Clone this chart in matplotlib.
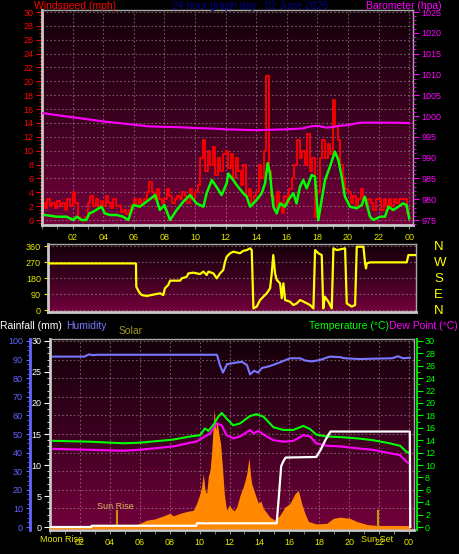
import numpy as np
import matplotlib
matplotlib.use("Agg")
import matplotlib.pyplot as plt
from matplotlib.colors import LinearSegmentedColormap
from matplotlib.ticker import MultipleLocator, FixedLocator

plt.rcParams['font.family'] = ['Liberation Sans', 'DejaVu Sans']

# ---- wind panel data ----
# gust, one sample every 10 minutes from 00:00
wind_gust = [
    2.5, 1.8, 3.0, 2.0, 2.5, 1.8,   2.8, 2.0, 2.5, 1.5, 3.0, 2.0,
    4.0, 2.5, 0.5, 0.0, 0.0, 0.5,   2.5, 3.5, 2.0, 3.0, 2.0, 2.8,
    2.0, 3.5, 2.5, 1.8, 3.0, 2.0,   2.0, 1.2, 1.5, 0.8, 1.5, 2.0,
    3.0, 2.0, 3.0, 2.5, 3.0, 4.0,   5.5, 4.0, 3.0, 4.5, 3.0, 2.5,
    3.0, 4.5, 3.5, 2.5, 3.0, 3.5,   3.0, 4.0, 3.5, 2.5, 4.5, 3.0,
    4.0, 5.0, 9.0, 11.5, 7.0, 10.0, 8.0, 10.5, 6.5, 9.0, 7.0, 9.5,
    10.0, 7.5, 9.5, 6.0, 9.0, 7.0,  5.0, 8.0, 3.5, 4.5, 2.5, 3.5,
    4.0, 8.0, 6.0, 10.0, 20.7, 7.0, 3.5, 1.5, 4.0, 2.5, 1.0, 3.5,
    2.5, 4.5, 6.0, 8.0, 11.5, 9.0, 10.0, 8.0, 12.4, 7.0, 9.0, 0.5,
    4.0, 9.0, 11.5, 9.0, 11.0, 9.5, 17.3, 13.5, 11.5, 8.0, 6.0, 4.5,
    4.0, 2.5, 3.5, 2.0, 3.0, 4.5,   3.0, 2.0, 3.0, 2.5, 1.5, 3.0,
    3.0, 1.5, 3.0, 2.0, 3.0, 2.0,   3.0, 2.5, 3.0, 3.0, 3.0, 1.0,
]
gust_step_min = 10

avg_h = [0.2, 0.96, 1.6, 2.05, 2.27, 2.6, 2.9, 3.1, 3.35, 3.7, 3.9, 4.1, 4.45, 4.9, 5.3,
         5.64, 5.97, 6.4, 6.84, 7.4, 7.7, 8.0, 8.37, 8.8, 9.24, 9.67, 10.1, 10.55, 10.76,
         11.1, 11.4, 11.74, 12.07, 12.18, 12.5, 12.72, 13.16, 13.38, 13.6, 14.03, 14.36,
         14.58, 14.75, 14.9, 15.12, 15.34, 15.56, 15.88, 16.1, 16.43, 16.64, 16.86, 17.08,
         17.3, 17.63, 17.84, 18.06, 18.28, 18.5, 18.82, 19.15, 19.37, 19.59, 19.8, 20.13,
         20.57, 20.9, 21.1, 21.44, 21.66, 22.1, 22.42, 22.64, 22.96, 23.29, 23.6, 23.83, 24.0]
wind_avg = [0.72, 0.48, 0.48, 0, 0.48, 0, 0, 0.96, 1.2, 1.68, 1.92, 0.96, 0.72, 0.72, 0.48,
            0, 2.16, 1.92, 2.65, 3.6, 1.44, 2.16, 0, 1.44, 2.65, 3.6, 2.4, 1.92, 3.85,
            5.77, 4.8, 3.6, 5.3, 6.7, 5.77, 5.05, 3.85, 3.37, 1.92, 2.9, 3.85,
            5.3, 8.2, 6.7, 1.92, 0.96, 2.4, 1.92, 2.9, 3.85, 2.4, 4.8, 5.77,
            4.57, 6.5, 6.25, 0, 2.9, 5.77, 7.7, 9.86, 8.66, 6.25, 3.37, 1.92,
            1.68, 2.16, 3.37, 0.48, 0, 0.48, 0.48, 1.92, 1.44, 1.92, 2.4, 2.16, 0.24]

baro_h = [0, 1, 2, 3, 4, 5, 6, 7, 8, 9, 10, 11, 12, 13, 14, 15, 16, 17, 17.7, 18.1,
          18.6, 19.1, 19.5, 20.0, 20.5, 20.8, 22, 23, 24]
baro = [1000.7, 1000.2, 999.7, 999.2, 998.7, 998.3, 997.9, 997.5, 997.4, 997.3, 997.1,
        997.0, 996.8, 996.7, 996.6, 996.7, 996.8, 997.0, 997.6, 997.6, 997.2, 997.4,
        997.7, 997.8, 998.2, 998.4, 998.4, 998.4, 998.3]

# ---- wind direction ----
dir_h = [0.0, 5.74, 5.76, 5.95, 6.12, 6.45, 7.33, 7.54, 7.65, 7.87, 7.99, 8.65, 8.76, 9.09,
         9.2, 9.53, 9.97, 10.19, 10.41, 10.52, 10.85, 11.07, 11.29, 11.5, 11.62, 11.73,
         11.95, 12.17, 12.6, 12.83, 13.05, 13.27, 13.38, 13.49, 13.71, 13.93, 14.15, 14.37,
         14.59, 14.7, 14.8, 14.92, 15.03, 15.25, 15.36, 15.47, 15.58, 15.9, 16.13, 16.35,
         16.57, 16.8, 17.23, 17.45, 17.56, 17.78, 18.0, 18.1, 18.2, 18.44, 18.66, 18.77,
         18.99, 19.54, 19.65, 19.98, 20.2, 20.31, 20.75, 20.86, 20.92, 20.97, 21.19, 23.61,
         23.72, 24.15]
dir_deg = [262, 262, 131, 100, 84, 79, 94, 84, 122, 141, 165, 165, 178, 187, 206, 210, 202,
           216, 197, 216, 206, 178, 206, 225, 272, 300, 319, 328, 319, 333, 337, 347, 337,
           9, 19, 56, 75, 94, 122, 206, 309, 206, 169, 150, 66, 150, 56, 47, 28, 37, 56,
           47, 28, 9, 337, 319, 309, 9, 75, 47, 9, 347, 337, 347, 37, 19, 28, 356, 356,
           262, 234, 262, 268, 268, 309, 309]
compass = ['N', 'E', 'S', 'W', 'N']

# ---- rain / humidity / solar / temperature ----
rain_h = [0, 2.76, 2.78, 9.78, 9.82, 15.15, 15.3, 15.45, 15.6, 15.75, 17.8, 18.1, 18.4,
          18.75, 24.05, 24.08]
rain = [0.0, 0.0, 0.2, 0.2, 0.6, 0.6, 5.0, 9.8, 10.6, 11.2, 11.3, 12.5, 14.0, 15.4, 15.4, 0.0]

hum_h = [0.2, 2.3, 2.6, 2.87, 3.2, 6.7, 11.16, 11.36, 11.56, 11.83, 12.37, 12.83, 13.17,
         13.37, 13.64, 13.9, 14.17, 14.7, 15.37, 16.04, 16.71, 17.05, 17.5, 18.05, 18.7,
         19.4, 19.7, 20.7, 21.7, 22.86, 23.26, 23.6, 24.06]
humidity = [91.6, 91.6, 92.8, 92.4, 92.6, 92.6, 92.6, 87, 83, 87.5, 88.3, 88.8, 87, 82, 84,
            83, 85.5, 86.5, 88.5, 90.7, 90.7, 89.5, 89.0, 89.8, 91.6, 91.3, 90.7, 90.3,
            90.5, 90.7, 91.8, 90.7, 91.0]

solar_h = [0, 5.35, 6.02, 6.46, 7.0, 7.35, 8.02, 8.24, 8.69, 9.13, 9.58, 9.8, 10.03, 10.14,
           10.25, 10.36, 10.47, 10.58, 10.7, 10.8, 10.92, 10.98, 11.07, 11.17, 11.28, 11.4,
           11.54, 11.65, 11.8, 11.97, 12.14, 12.3, 12.48, 12.7, 12.92, 13.05, 13.15, 13.3,
           13.4, 13.48, 13.7, 13.93, 14.1, 14.26, 14.7, 15.04, 15.37, 15.7, 16.04, 16.38,
           16.6, 16.82, 17.04, 17.27, 17.8, 18.5, 18.94, 19.4, 20.05, 20.5, 21.2, 22.1,
           23.0, 24.05]
solar = [0, 0, 30, 55, 65, 80, 110, 90, 110, 125, 135, 190, 270, 330, 430, 300, 270, 405,
         460, 595, 835, 950, 780, 860, 755, 675, 460, 270, 135, 175, 150, 130, 160, 255,
         325, 380, 430, 560, 420, 350, 270, 190, 210, 150, 80, 55, 95, 160, 190, 270, 295,
         190, 110, 45, 25, 30, 70, 80, 70, 45, 20, 10, 0, 0]

temp_h = [0.22, 2.68, 4.9, 6.0, 8.24, 9.36, 10.03, 10.36, 10.58, 10.9, 11.25, 11.48, 11.8,
          12.25, 12.7, 13.37, 13.8, 14.26, 14.7, 14.93, 15.6, 16.26, 16.93, 17.38, 17.8,
          18.5, 19.4, 20.5, 21.6, 22.7, 23.4, 23.84, 24.06]
temperature = [13.9, 13.76, 13.5, 13.6, 14.1, 14.6, 14.8, 15.9, 15.5, 16.4, 17.8, 18.4,
               17.5, 16.4, 16.7, 17.9, 18.2, 17.8, 16.7, 16.1, 15.65, 15.65, 16.3, 15.8,
               14.9, 14.6, 14.5, 14.3, 14.0, 13.5, 13.1, 12.1, 11.9]

dew_h = [0.22, 2.68, 4.9, 6.0, 8.24, 9.8, 10.36, 10.7, 11.14, 11.48, 11.8, 12.25, 12.7,
         13.37, 13.59, 13.93, 14.48, 14.93, 15.6, 16.26, 16.93, 17.38, 17.8, 18.5, 19.4,
         20.5, 21.6, 22.7, 23.4, 23.84, 24.06]
dew_point = [12.6, 12.45, 12.3, 12.45, 13.0, 13.8, 14.6, 15.1, 16.7, 16.4, 14.8, 14.3, 14.6,
             15.65, 15.1, 15.5, 14.6, 14.0, 13.76, 13.9, 14.8, 14.6, 13.5, 13.1, 13.0, 12.7,
             12.45, 11.9, 11.6, 10.5, 10.2]

sunrise_h = 4.46
sunset_h = 21.95
hour_labels = ['02', '04', '06', '08', '10', '12', '14', '16', '18', '20', '22', '00']

W, H = 460, 554
fig = plt.figure(figsize=(W / 100, H / 100), dpi=100, facecolor='black')
bg_cmap = LinearSegmentedColormap.from_list('bg', ['#14000a', '#3c0020', '#74003c'])
YELLOW = '#e8e800'
TITLE_FS = 7.5
GRID = dict(color='#b0a0a8', linestyle=(0, (1.5, 2)), linewidth=0.8, alpha=0.55)


def px_axes(left, top, right, bottom):
    return fig.add_axes([left / W, 1 - bottom / H, (right - left) / W, (bottom - top) / H])


def panel(ax, xlim, ylim):
    ax.set_facecolor('black')
    ax.imshow(np.linspace(0, 1, 256).reshape(-1, 1), cmap=bg_cmap, aspect='auto',
              extent=[xlim[0], xlim[1], ylim[0], ylim[1]], origin='upper', zorder=0)
    ax.set_xlim(*xlim)
    ax.set_ylim(*ylim)
    for side in ['left', 'bottom']:
        ax.spines[side].set_color('#c8c8c8')
        ax.spines[side].set_linewidth(2)
    for side in ['top', 'right']:
        ax.spines[side].set_color('#a8a8a8')
        ax.spines[side].set_linewidth(1)


def bare_twin(ax):
    t = ax.twinx()
    for s in t.spines.values():
        s.set_visible(False)
    return t


def ftext(x, y, s, **kw):
    fig.text(x / W, 1 - y / H, s, va='center', **kw)


# ================= panel 1 : wind speed + barometer =================
ax1 = px_axes(42, 10, 413, 225)
panel(ax1, (0, 24.25), (-0.72, 30.29))
gust_h = np.arange(len(wind_gust)) * gust_step_min / 60
ax1.step(gust_h, wind_gust, where='post', color='#ff0000', lw=1.3, zorder=2)
ax1.plot(avg_h, wind_avg, color='#00ff00', lw=1.8, zorder=3)
ax1.yaxis.set_major_locator(MultipleLocator(2))
ax1.yaxis.set_minor_locator(MultipleLocator(0.5))
ax1.tick_params(axis='y', which='both', colors='#ff0000', labelsize=6.5, pad=2)
ax1.tick_params(axis='y', which='major', length=4)
ax1.tick_params(axis='y', which='minor', length=2)
ax1.xaxis.set_major_locator(FixedLocator(range(2, 25, 2)))
ax1.xaxis.set_minor_locator(MultipleLocator(1))
ax1.set_xticklabels(hour_labels)
ax1.tick_params(axis='x', which='both', color='#909090', labelcolor=YELLOW, labelsize=6.5,
                length=3, pad=3)
ax1.grid(True, which='major', **GRID)

axb = bare_twin(ax1)
axb.set_ylim(975 - 0.72 * 5 / 3, 975 + 30.29 * 5 / 3)
axb.plot(baro_h, baro, color='#ff00ff', lw=1.5)
axb.yaxis.set_major_locator(MultipleLocator(5))
axb.yaxis.set_minor_locator(MultipleLocator(1))
axb.tick_params(axis='y', which='both', colors='#ff00ff', labelsize=6.5, pad=2)
axb.tick_params(axis='y', which='major', length=4)
axb.tick_params(axis='y', which='minor', length=2)

ftext(34, 6, 'Windspeed (mph)', color='#ff0000', fontsize=TITLE_FS, ha='left')
ftext(250, 6, '24 hour graph day : 02 June 2026', color='#000090', fontsize=TITLE_FS,
      ha='center')
ftext(442, 6, 'Barometer (hpa)', color='#ff00ff', fontsize=TITLE_FS, ha='right')

# ================= panel 2 : wind direction =================
ax2 = px_axes(48, 244, 416, 312)
panel(ax2, (-0.066, 24.22), (-11.25, 371.25))
ax2.plot(dir_h, dir_deg, color='#ffff00', lw=1.6, zorder=3)
ax2.set_yticks([0, 90, 180, 270, 360])
ax2.tick_params(axis='y', colors=YELLOW, labelsize=6.5, length=3, pad=2)
ax2.set_xticks([])
ax2.yaxis.grid(True, **GRID)

ax2c = bare_twin(ax2)
ax2c.set_ylim(-11.25, 371.25)
ax2c.set_yticks([0, 90, 180, 270, 360])
ax2c.set_yticklabels(compass)
ax2c.tick_params(axis='y', length=0, labelcolor='#ffff00', labelsize=9.5, pad=13)

# ================= panel 3 : rain / humidity / solar / temperature =================
ax3 = px_axes(50, 339, 414, 530)
ylim3 = (-0.48, 30.32)
panel(ax3, (0, 24.33), ylim3)
ax3.yaxis.set_major_locator(MultipleLocator(5))
ax3.yaxis.set_minor_locator(MultipleLocator(1))
ax3.tick_params(axis='y', which='both', colors='white', labelsize=6.5, pad=2)
ax3.tick_params(axis='y', which='major', length=4)
ax3.tick_params(axis='y', which='minor', length=2)
ax3.xaxis.set_major_locator(FixedLocator(range(2, 25, 2)))
ax3.xaxis.set_minor_locator(MultipleLocator(1))
ax3.set_xticklabels(hour_labels)
ax3.tick_params(axis='x', which='both', color='#909090', labelcolor=YELLOW, labelsize=6.5,
                length=3, pad=3)
ax3.xaxis.grid(True, which='major', **GRID)
for g in np.arange(3, 31, 3):
    ax3.axhline(g, **GRID)

axs = bare_twin(ax3)
axs.set_ylim(ylim3[0] * 50, ylim3[1] * 50)
axs.fill_between(solar_h, -15, solar, color='#ff8800', lw=0)
axs.set_yticks([])

axt = bare_twin(ax3)
axt.set_ylim(*ylim3)
axt.fill_between([0, 24.05], -0.3, 0.15, color='#ff8800', lw=0)
axt.plot([sunrise_h, sunrise_h], [0, 2.6], color='#c89600', lw=1.5)
axt.plot([sunset_h, sunset_h], [0, 2.6], color='#c89600', lw=1.5)
axt.text(sunrise_h - 0.1, 3.3, 'Sun Rise', color='#d8b860', fontsize=6.5, ha='center',
         va='center')
axt.plot(dew_h, dew_point, color='#ff00ff', lw=1.5)
axt.plot(temp_h, temperature, color='#00ff00', lw=1.5)
axt.plot(rain_h, rain, color='white', lw=1.6)
axt.spines['right'].set_visible(True)
axt.spines['right'].set_color('#00dd00')
axt.spines['right'].set_linewidth(1.5)
axt.spines['right'].set_position(('outward', 2))
axt.yaxis.set_major_locator(MultipleLocator(2))
axt.yaxis.set_minor_locator(MultipleLocator(1))
axt.tick_params(axis='y', which='both', colors='#00ff00', labelsize=6.5, pad=2)
axt.tick_params(axis='y', which='major', length=4)
axt.tick_params(axis='y', which='minor', length=2)

axh = bare_twin(ax3)
axh.set_ylim(ylim3[0] * 100 / 30, ylim3[1] * 100 / 30)
axh.plot(hum_h, humidity, color='#7878ff', lw=1.5)
axh.yaxis.set_ticks_position('left')
axh.spines['left'].set_visible(True)
axh.spines['left'].set_position(('outward', 14.5))
axh.spines['left'].set_color('#6464ff')
axh.spines['left'].set_linewidth(2)
axh.yaxis.set_major_locator(MultipleLocator(10))
axh.yaxis.set_minor_locator(MultipleLocator(2.5))
axh.tick_params(axis='y', which='both', colors='#6464ff', labelsize=6.5, pad=2)
axh.tick_params(axis='y', which='major', length=3)
axh.tick_params(axis='y', which='minor', length=2)

ftext(0, 326, 'Rainfall (mm)', color='white', fontsize=TITLE_FS, ha='left')
ftext(66, 326, 'Humidity', color='#7878ff', fontsize=TITLE_FS, ha='left')
ftext(119, 331, 'Solar', color='#a09a28', fontsize=TITLE_FS, ha='left')
ftext(309, 326, 'Temperature (\u00b0C)', color='#00ff00', fontsize=TITLE_FS, ha='left')
ftext(458, 326, 'Dew Point (\u00b0C)', color='#ff00ff', fontsize=TITLE_FS, ha='right')
ftext(62, 540, 'Moon Rise', color=YELLOW, fontsize=6.5, ha='center')
ftext(377, 540, 'Sun Set', color=YELLOW, fontsize=6.5, ha='center')

fig.savefig('out.png', dpi=100, facecolor='black')
